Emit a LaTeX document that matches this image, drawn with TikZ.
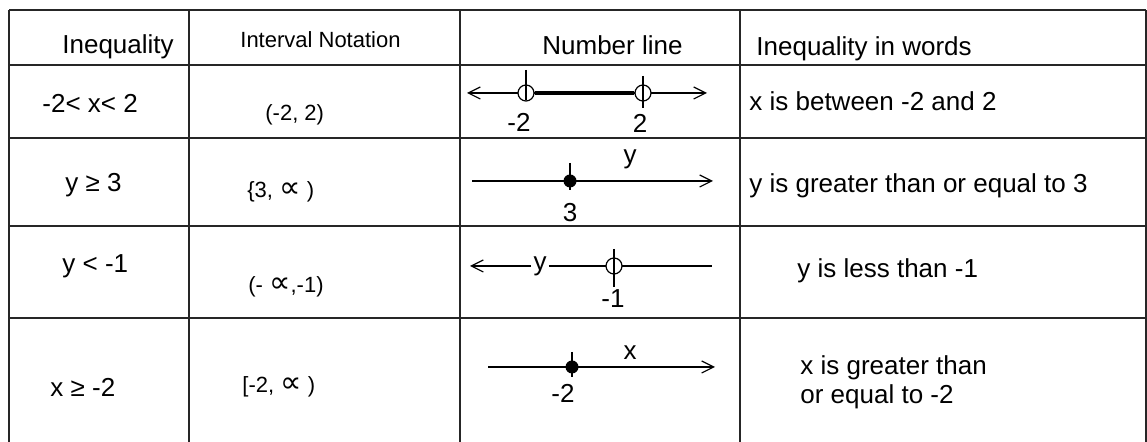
\documentclass[tikz,border=0pt]{standalone}
\usepackage{fontspec}
\setmainfont{Liberation Sans}
\newfontfamily\symfont{DejaVu Sans}
\usetikzlibrary{arrows.meta}
\newcommand{\propinf}{{\symfont\fontsize{15}{15}\selectfont ∝}}

\begin{document}
\begin{tikzpicture}[x=0.5pt,y=-0.5pt,>={Straight Barb[length=6pt,width=6pt]}]

    \tikzstyle{txt} = [anchor=base west, inner sep=0pt, font=\fontsize{13}{14.5}\selectfont]
    \tikzstyle{small} = [anchor=base west, inner sep=0pt, font=\fontsize{11}{13}\selectfont]
    \tikzstyle{ticklabel} = [anchor=base, inner sep=0pt, font=\fontsize{13}{14.5}\selectfont]
    \tikzstyle{grid} = [line width=1pt, draw=black!85]
    \tikzstyle{nline} = [line width=0.6pt]
    \tikzstyle{opendot} = [circle, draw, fill=white, line width=0.6pt, minimum size=8pt, inner sep=0pt]
    \tikzstyle{fulldot} = [circle, fill=black, minimum size=6.5pt, inner sep=0pt]

    \useasboundingbox (0,0) rectangle (1147,442);

    % table
    \draw[grid] (9,10) -- (1146,10);
    \draw[grid] (9,65) -- (1146,65);
    \draw[grid] (9,138) -- (1146,138);
    \draw[grid] (9,226) -- (1146,226);
    \draw[grid] (9,318) -- (1146,318);
    \draw[grid] (9,10) -- (9,442);
    \draw[grid] (189,10) -- (189,442);
    \draw[grid] (460,10) -- (460,442);
    \draw[grid] (740,10) -- (740,442);
    \draw[grid] (1146,10) -- (1146,442);

    % headers
    \node[txt] (h1) at (62,54) {Inequality};
    \node[small] (h2) at (240,48) {Interval Notation};
    \node[txt] (h3) at (542,55) {Number line};
    \node[txt] (h4) at (756,56) {Inequality in words};

    % inequalities and intervals
    \node[txt] (q1) at (42,113) {-2< x< 2};
    \node[small] (v1) at (265,121) {(-2, 2)};
    \node[txt] (q2) at (65,192) {y ≥ 3};
    \node[small] (v2) at (247,198) {\{3, \propinf\ )};
    \node[txt] (q3) at (62,273) {y < -1};
    \node[small] (v3) at (248,293) {(- \propinf ,-1)};
    \node[txt] (q4) at (50,397) {x ≥ -2};
    \node[small] (v4) at (242,393) {[-2, \propinf\ )};

    % in words
    \node[txt] (w1) at (749,111) {x is between -2 and 2};
    \node[txt] (w2) at (749,193) {y is greater than or equal to 3};
    \node[txt] (w3) at (797,278) {y is less than -1};
    \node[txt, anchor=west, align=left] (w4) at (800,382) {x is greater than\\or equal to -2};

    % number line 1
    \coordinate (a1) at (467,93);
    \coordinate (b1) at (707,93);
    \draw[nline,<->] (a1) -- (b1);
    \node[opendot] (p1) at (526,93) {};
    \node[opendot] (p2) at (643,93) {};
    \draw[line width=2pt] (p1) -- (p2);
    \draw[nline] ([yshift=11.5pt]p1.center) -- ([yshift=-3.5pt]p1.center);
    \draw[nline] ([yshift=8.5pt]p2.center) -- ([yshift=-7.5pt]p2.center);
    \node[ticklabel] (m1) at (519,132) {-2};
    \node[ticklabel] (m2) at (640,133) {2};

    % number line 2
    \coordinate (a2) at (472,181);
    \coordinate (b2) at (713,181);
    \draw[nline,->] (a2) -- (b2);
    \node[fulldot] (p3) at (570,181) {};
    \draw[nline] ([yshift=9pt]p3.center) -- ([yshift=-4.5pt]p3.center);
    \node[ticklabel] (m3) at (630,164) {y};
    \node[ticklabel] (m4) at (570,222) {3};

    % number line 3
    \node[inner sep=1pt, font=\fontsize{13}{14.5}\selectfont] (y3) at (540,266) {y};
    \coordinate (a3) at (470,266);
    \coordinate (b3) at (712,266);
    \draw[nline,->] (y3.west) -- (a3);
    \draw[nline] (y3.east) -- (b3);
    \node[opendot] (p4) at (614,266) {};
    \draw[nline] ([yshift=8.5pt]p4.center) -- ([yshift=-10.5pt]p4.center);
    \node[ticklabel] (m5) at (613,308) {-1};

    % number line 4
    \coordinate (a4) at (488,367);
    \coordinate (b4) at (715,367);
    \draw[nline,->] (a4) -- (b4);
    \node[fulldot] (p5) at (572,367) {};
    \draw[nline] ([yshift=7.5pt]p5.center) -- ([yshift=-5pt]p5.center);
    \node[ticklabel] (m6) at (630,360) {x};
    \node[ticklabel] (m7) at (563,403) {-2};
\end{tikzpicture}
\end{document}
